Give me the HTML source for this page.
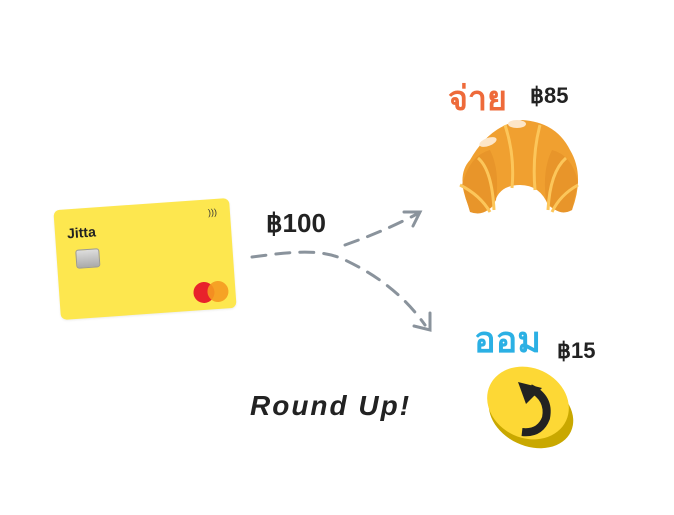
<!DOCTYPE html>
<html><head><meta charset="utf-8"><style>
body{margin:0;width:674px;height:515px;background:#fff;overflow:hidden;position:relative;font-family:"Liberation Sans",sans-serif}
.card{position:absolute;left:57px;top:204px;width:176px;height:110px;background:#fde74f;border-radius:6px;transform:rotate(-4deg);box-shadow:0 1px 2px rgba(0,0,0,.08)}
</style></head><body>
<div class="card">
 <div style="position:absolute;left:12px;top:16px;font-weight:bold;font-size:14px;color:#222">Jitta</div>
 <div style="position:absolute;left:19px;top:41px;width:22px;height:17px;background:linear-gradient(#ddd,#aaa);border-radius:3px;border:1px solid #999"></div>
 <div style="position:absolute;left:154px;top:8px;font-size:9px;color:#333">)))</div>
 <div style="position:absolute;left:134px;top:82px;width:21px;height:21px;border-radius:50%;background:#e8222b"></div>
 <div style="position:absolute;left:148px;top:82px;width:21px;height:21px;border-radius:50%;background:#f59a20;opacity:.9"></div>
</div>
<svg width="674" height="515" style="position:absolute;left:0;top:0">
 <g fill="none" stroke="#8a939c" stroke-width="3" stroke-dasharray="14 10" stroke-linecap="round">
  <path d="M252 257 C290 252 320 248 345 260 C370 272 400 290 425 325"/>
  <path d="M345 245 C370 236 390 228 417 214"/>
 </g>
 <g fill="none" stroke="#8a939c" stroke-width="3" stroke-linecap="round">
  <path d="M404 212 L420 212 L413 226"/>
  <path d="M430 313 L430 330 L414 326"/>
 </g>
 <text x="266" y="232" font-family="Liberation Sans" font-size="26" fill="#222" font-weight="bold">฿100</text>
 <text x="250" y="415" font-family="Liberation Sans" font-size="28" fill="#222" letter-spacing="2" font-style="italic" font-weight="bold">Round Up!</text>
 <text x="448" y="110" font-family="Liberation Sans,Noto Sans CJK SC,sans-serif" font-size="34" font-weight="bold" fill="#ee6a3a">จ่าย</text>
 <text x="530" y="103" font-family="Liberation Sans" font-size="22" fill="#222" font-weight="bold">฿85</text>
 <text x="474" y="352" font-family="Liberation Sans,Noto Sans CJK SC,sans-serif" font-size="36" font-weight="bold" fill="#2bb0e4">ออม</text>
 <text x="557" y="358" font-family="Liberation Sans" font-size="22" fill="#222" font-weight="bold">฿15</text>
 <!-- croissant -->
 <g>
  <path d="M468 205 Q456 175 470 160 Q490 125 522 120 Q556 122 570 150 Q585 175 572 210 Q560 215 548 205 Q540 185 520 185 Q498 185 494 205 Q482 218 468 205 Z" fill="#f0a030"/>
  <path d="M462 185 Q470 155 490 150 Q500 170 496 200 Q486 218 470 212 Z" fill="#e8952a"/>
  <path d="M578 182 Q572 155 552 150 Q542 170 546 200 Q558 218 572 210 Z" fill="#e8952a"/>
  <path d="M478 158 Q492 170 494 210 M505 125 Q515 155 512 188 M540 125 Q532 155 535 190 M566 158 Q550 172 548 210 M460 185 Q480 195 490 212 M578 185 Q560 195 552 212" stroke="#fcc65a" stroke-width="3" fill="none"/>
  <ellipse cx="517" cy="124" rx="9" ry="4" fill="#fde6c8"/>
  <ellipse cx="488" cy="142" rx="9" ry="4" fill="#fde6c8" transform="rotate(-20 488 142)"/>
 </g>
 <!-- coin -->
 <ellipse cx="531" cy="413" rx="44" ry="33" fill="#c9a800" transform="rotate(25 531 413)"/>
 <ellipse cx="528" cy="403" rx="42" ry="35" fill="#fdd835" transform="rotate(25 528 403)"/>
 <path d="M530 388 Q550 398 546 418 Q540 434 522 432" stroke="#222" stroke-width="8" fill="none"/>
 <path d="M518 382 L542 388 L526 404 Z" fill="#222"/>
</svg>
</body></html>
